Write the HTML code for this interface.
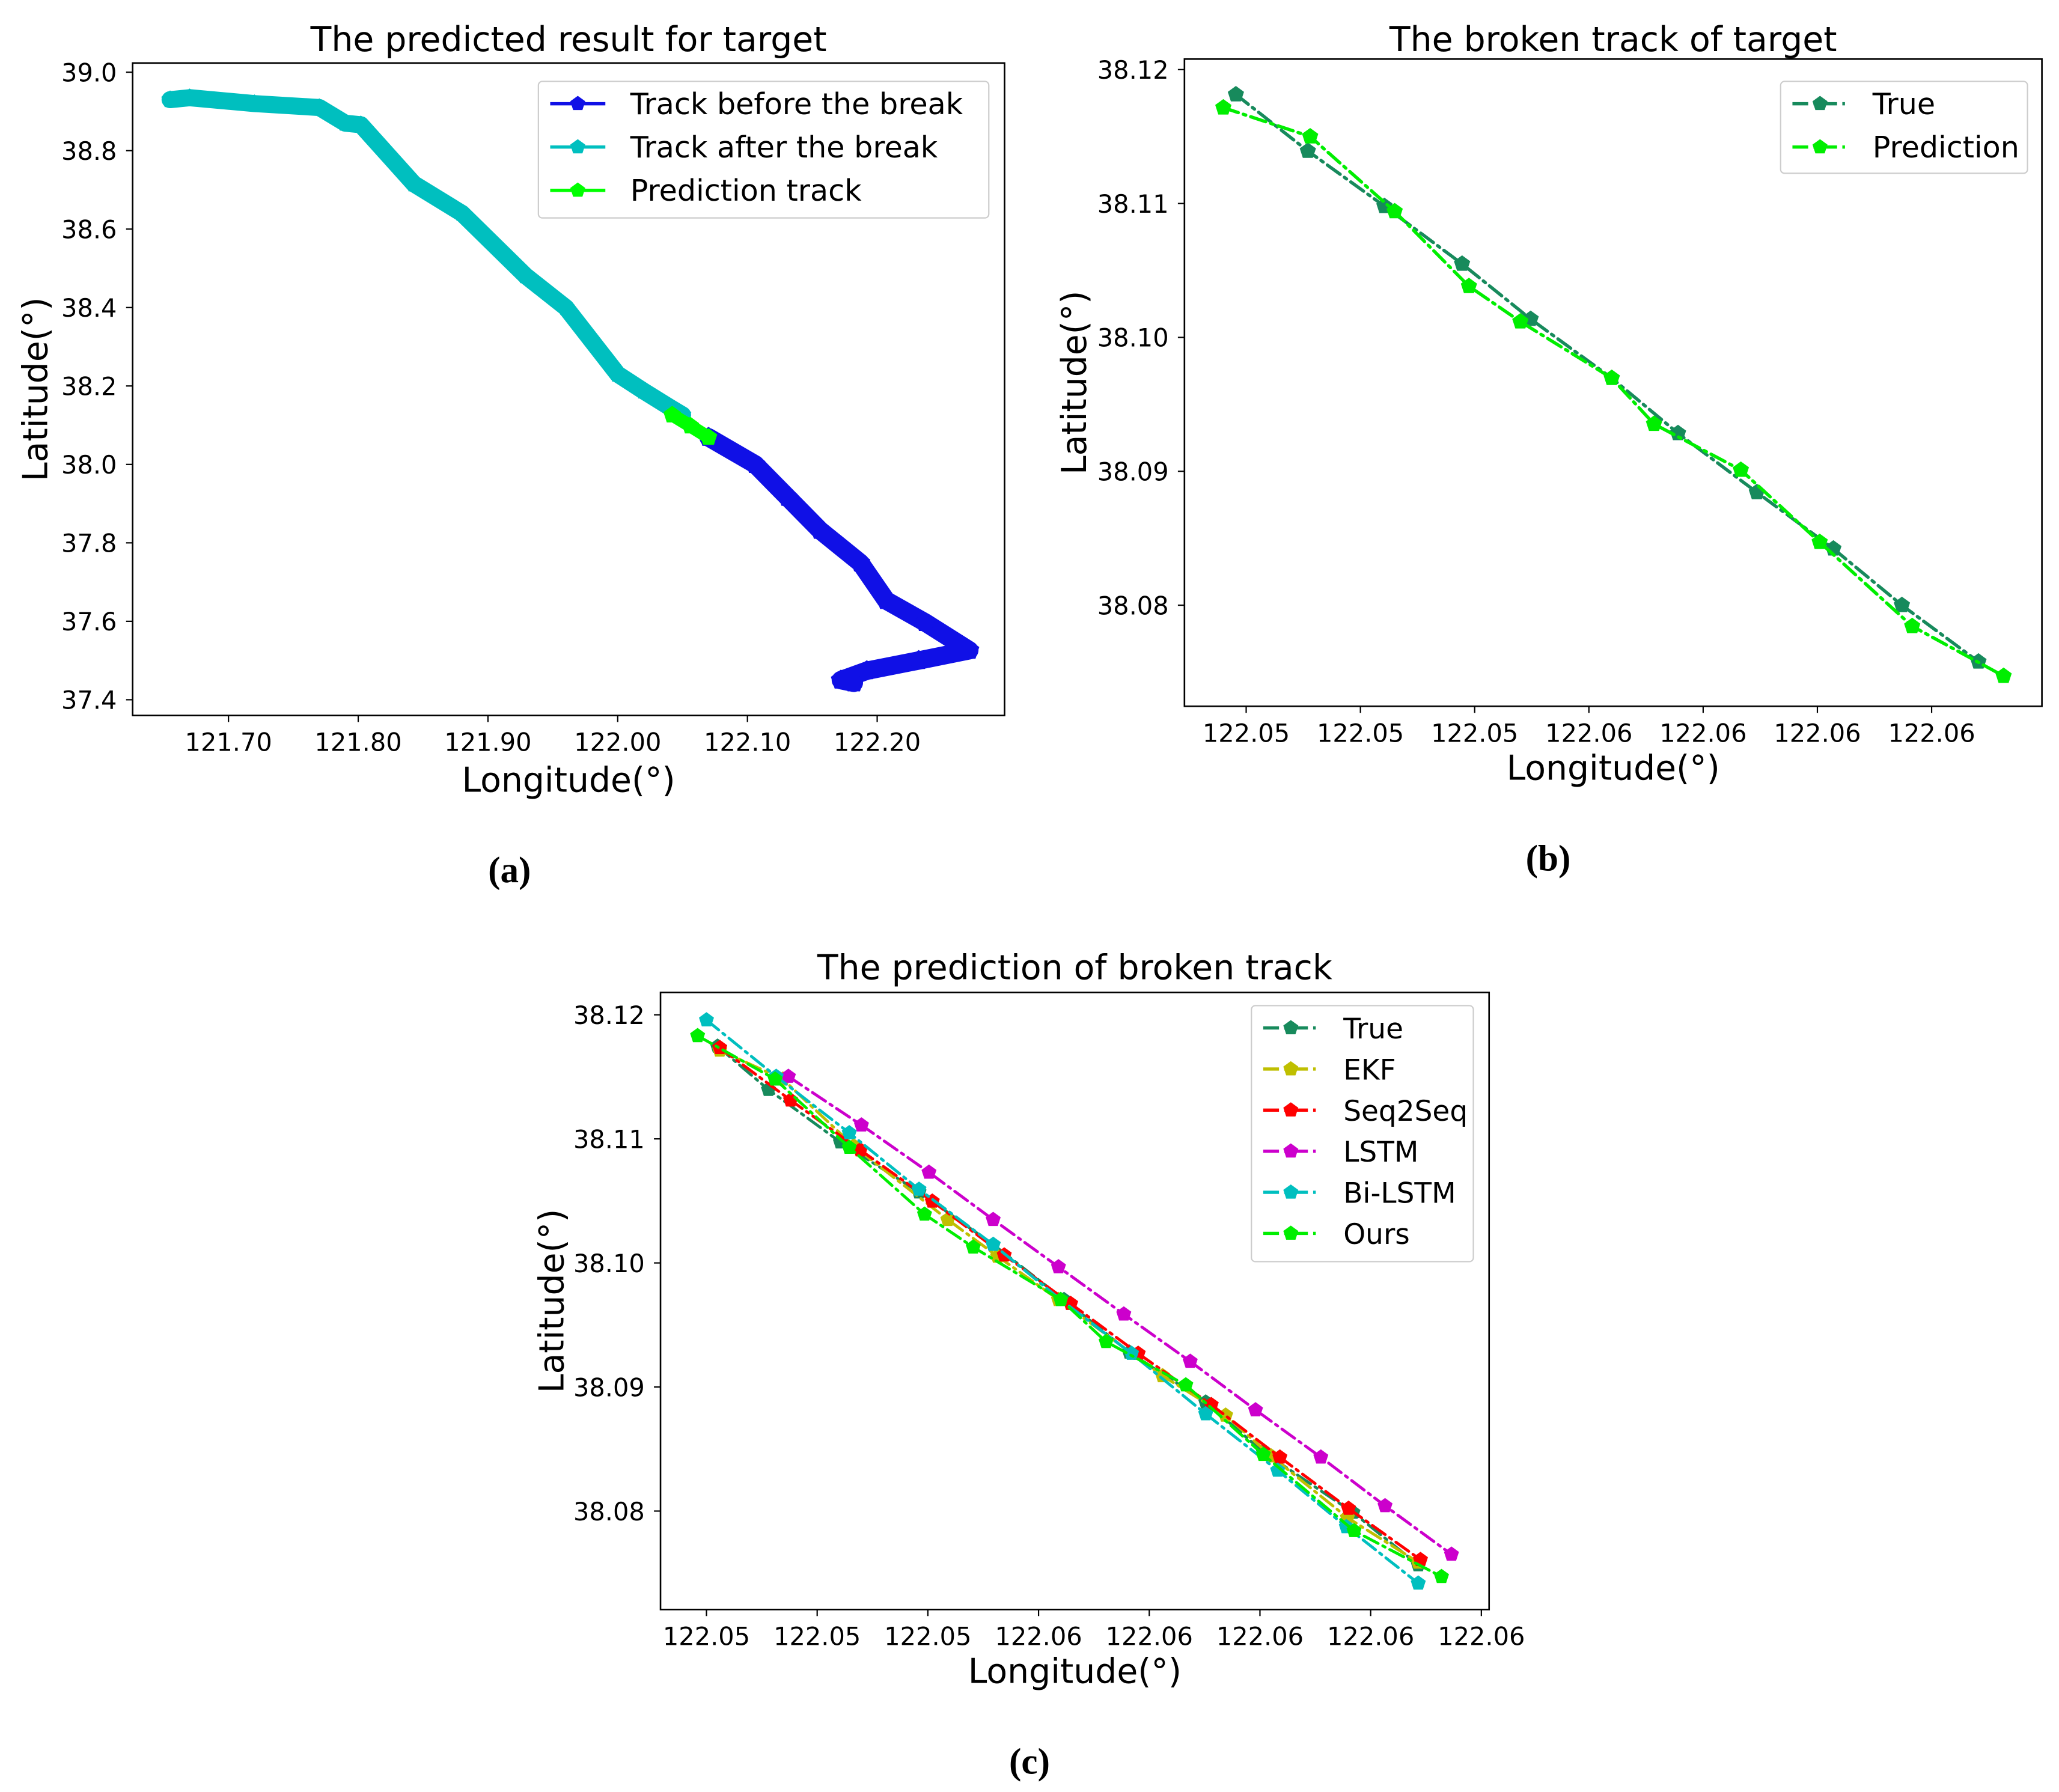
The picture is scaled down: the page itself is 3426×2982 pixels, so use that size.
<!DOCTYPE html>
<html><head><meta charset="utf-8">
<style>
html,body{margin:0;padding:0;background:#fff;}
svg{display:block;}
text{font-family:"DejaVu Sans","Liberation Sans",sans-serif;fill:#000;}
.cap{font-family:"Liberation Serif",serif;font-weight:bold;}
</style></head>
<body>
<svg id="fig" width="3426" height="2982" viewBox="0 0 1568 1365" preserveAspectRatio="none" xmlns="http://www.w3.org/2000/svg">
<rect width="1568" height="1365" fill="#fff"/>
</svg>
<script>
// ---------- Panel (a) data ----------
const aBeforeLon = [122.07,122.106,122.131,122.156,122.187,122.207,122.237,122.271,122.232,122.192,122.172,122.182];
const aBeforeLat = [38.069,38.0,37.916,37.832,37.749,37.653,37.597,37.526,37.50,37.474,37.45,37.443];
const aAfterLon = [121.655,121.67,121.72,121.77,121.79,121.802,121.843,121.88,121.929,121.96,122.0,122.02,122.04,122.05];
const aAfterLat = [38.93,38.935,38.92,38.91,38.87,38.866,38.715,38.64,38.481,38.40,38.23,38.187,38.146,38.126];
const aPredLon = [122.042,122.056,122.07];
const aPredLat = [38.126,38.098,38.069];
const aXTicks = [121.70,121.80,121.90,122.00,122.10,122.20];
const aXTickLabels = ["121.70","121.80","121.90","122.00","122.10","122.20"];
const aYTicks = [37.4,37.6,37.8,38.0,38.2,38.4,38.6,38.8,39.0];
const aYTickLabels = ["37.4","37.6","37.8","38.0","38.2","38.4","38.6","38.8","39.0"];

// ---------- Panel (b) data ----------
const bTrueLon = [122.05191,122.05254,122.05321,122.05389,122.05449,122.05520,122.05578,122.05647,122.05714,122.05774,122.05841];
const bTrueLat = [38.11814,38.11392,38.10980,38.10549,38.10137,38.09696,38.09284,38.08843,38.08422,38.08000,38.07578];
const bPredLon = [122.05180,122.05256,122.05330,122.05395,122.05440,122.05520,122.05557,122.05633,122.05702,122.05783,122.05863];
const bPredLat = [38.11716,38.11500,38.10941,38.10382,38.10118,38.09696,38.09353,38.09010,38.08471,38.07843,38.07471];
const bXTicks = [122.052,122.053,122.054,122.055,122.056,122.057,122.058];
const bXTickLabels = ["122.05","122.05","122.05","122.06","122.06","122.06","122.06"];
const bYTicks = [38.08,38.09,38.10,38.11,38.12];
const bYTickLabels = ["38.08","38.09","38.10","38.11","38.12"];

// ---------- Panel (c) data ----------
const cTrueLon = [122.05210,122.05256,122.05321,122.05392,122.05459,122.05523,122.05582,122.05651,122.05703,122.05784,122.05843];
const cTrueLat = [38.11746,38.11397,38.10974,38.10571,38.10148,38.09704,38.09280,38.08878,38.08476,38.07989,38.07566];
const cEkfLon = [122.05212,122.05269,122.05333,122.05418,122.05463,122.05518,122.05612,122.05669,122.05710,122.05779,122.05843];
const cEkfLat = [38.11714,38.11481,38.10942,38.10349,38.10053,38.09704,38.09090,38.08772,38.08444,38.07947,38.07587];
const cSeqLon = [122.05212,122.05276,122.05339,122.05404,122.05469,122.05529,122.05590,122.05656,122.05718,122.05780,122.05845];
const cSeqLat = [38.11735,38.11312,38.10910,38.10497,38.10063,38.09672,38.09270,38.08857,38.08434,38.08021,38.07608];
const cLstmLon = [122.05274,122.05340,122.05401,122.05459,122.05518,122.05577,122.05637,122.05696,122.05755,122.05813,122.05873];
const cLstmLat = [38.11503,38.11111,38.10730,38.10349,38.09968,38.09587,38.09206,38.08815,38.08434,38.08042,38.07651];
const cBiLon = [122.05200,122.05263,122.05329,122.05392,122.05459,122.05520,122.05584,122.05651,122.05716,122.05778,122.05843];
const cBiLat = [38.11958,38.11503,38.11048,38.10593,38.10148,38.09704,38.09270,38.08783,38.08328,38.07873,38.07418];
const cOursLon = [122.05192,122.05262,122.05329,122.05397,122.05441,122.05520,122.05561,122.05633,122.05703,122.05785,122.05864];
const cOursLat = [38.11831,38.11481,38.10931,38.10392,38.10127,38.09704,38.09365,38.09016,38.08455,38.07841,38.07471];
const cXTicks = [122.052,122.053,122.054,122.055,122.056,122.057,122.058,122.059];
const cXTickLabels = ["122.05","122.05","122.05","122.06","122.06","122.06","122.06","122.06"];
const cYTicks = [38.08,38.09,38.10,38.11,38.12];
const cYTickLabels = ["38.08","38.09","38.10","38.11","38.12"];

const NS = "http://www.w3.org/2000/svg";
const svg = document.getElementById("fig");
function mk(tag, attrs, parent, txt){
  const e = document.createElementNS(NS, tag);
  for (const k in attrs) e.setAttribute(k, attrs[k]);
  if (txt !== undefined) e.textContent = txt;
  (parent||svg).appendChild(e);
  return e;
}
function lin(d0,d1,r0,r1){ return v => r0 + (v-d0)/(d1-d0)*(r1-r0); }
function pent(cx,cy,r){
  let p=[];
  for(let i=0;i<5;i++){const a=-Math.PI/2+i*2*Math.PI/5;p.push((cx+r*Math.cos(a)).toFixed(2)+","+(cy+r*Math.sin(a)).toFixed(2));}
  return p.join(" ");
}

function axes(name, box, sx, sy, xt, xtl, yt, ytl, title, tY, xlY, ylX){
  const g = mk("g", {});
  
  
  const fr = mk("rect",{x:box.x,y:box.y,width:box.w,height:box.h,fill:"none",stroke:"#000","stroke-width":1.2},g);
  
  
  xt.forEach((v,i)=>{
    const x=sx(v);
    mk("line",{x1:x,y1:box.y+box.h,x2:x,y2:box.y+box.h+5,stroke:"#000"},g);
    const t=mk("text",{x:x,y:box.y+box.h+27,"font-size":19,"text-anchor":"middle"},g,xtl[i]);
    
    
  });
  yt.forEach((v,i)=>{
    const y=sy(v);
    mk("line",{x1:box.x-5,y1:y,x2:box.x,y2:y,stroke:"#000"},g);
    const t=mk("text",{x:box.x-12,y:y+7,"font-size":19,"text-anchor":"end"},g,ytl[i]);
    
    
  });
  const tt=mk("text",{x:box.x+box.w/2,y:tY,"font-size":26,"text-anchor":"middle"},g,title);
  
  
  const xl=mk("text",{x:box.x+box.w/2,y:xlY,"font-size":26,"text-anchor":"middle"},g,"Longitude(°)");
  
  
  const cy=box.y+box.h/2;
  const yl=mk("text",{x:ylX,y:cy,"font-size":26,"text-anchor":"middle",transform:`rotate(-90 ${ylX} ${cy})`},g,"Latitude(°)");
  
  
  return g;
}

function series(name, lon, lat, sx, sy, color, lw, dash, mr){
  const g = mk("g", {});
  
  
  const pts = lon.map((v,i)=>sx(v).toFixed(2)+","+sy(lat[i]).toFixed(2)).join(" ");
  const attrs={points:pts,fill:"none",stroke:color,"stroke-width":lw,"stroke-linejoin":"round","stroke-linecap":"round"};
  if(dash) attrs["stroke-dasharray"]=dash;
  const l=mk("polyline",attrs,g);
  
  
  lon.forEach((v,i)=>{
    const p=mk("polygon",{points:pent(sx(v),sy(lat[i]),mr),fill:color},g);
    
    
  });
}

function legend(name, x, y, w, h, entries, step, fs){
  const g = mk("g", {});
  
  
  mk("rect",{x:x,y:y,width:w,height:h,fill:"#fff",stroke:"#ccc",rx:3},g);
  entries.forEach((e,i)=>{
    const yy=y+17+i*step;
    const eg=mk("g",{},g);
    
    
    mk("line",{x1:x+9,y1:yy,x2:x+51,y2:yy,stroke:e.c,"stroke-width":e.lw||2.5,"stroke-dasharray":e.d||""},eg);
    mk("polygon",{points:pent(x+30,yy,6),fill:e.c},eg);
    mk("text",{x:x+70,y:yy+8,"font-size":fs},eg,e.t);
  });
}

// ----- Panel (a) -----
(function(){
  const box={x:101,y:48,w:664,h:497};
  const sx=lin(121.7,122.2,174,668), sy=lin(39.0,37.4,55,533);
  axes("panel-a",box,sx,sy,aXTicks,aXTickLabels,aYTicks,aYTickLabels,"The predicted result for target",39,603,36);
  series("track-after-break",aAfterLon,aAfterLat,sx,sy,"#00bfbf",13,null,7);
  series("track-before-break",aBeforeLon,aBeforeLat,sx,sy,"#1010e6",14,null,8);
  series("prediction-track",aPredLon,aPredLat,sx,sy,"#00ff00",10,null,7);
  legend("legend-a",410,62,343,104,[
    {c:"#1010e6",t:"Track before the break"},
    {c:"#00bfbf",t:"Track after the break"},
    {c:"#00ff00",t:"Prediction track"}],33,22.5);
})();

// ----- Panel (b) -----
(function(){
  const box={x:902,y:45,w:653,h:493};
  const sx=lin(122.052,122.053,949,1036), sy=lin(38.12,38.08,53,461);
  axes("panel-b",box,sx,sy,bXTicks,bXTickLabels,bYTicks,bYTickLabels,"The broken track of target",39,594,827);
  series("true-track",bTrueLon,bTrueLat,sx,sy,"#178a5c",2.5,"12,4,2,4",6.5);
  series("prediction-track-b",bPredLon,bPredLat,sx,sy,"#00ee00",2.5,"12,4,2,4",6.5);
  legend("legend-b",1356,62,188,70,[
    {c:"#178a5c",t:"True",d:"12,4,2,4"},
    {c:"#00ee00",t:"Prediction",d:"12,4,2,4"}],33,22.5);
})();

// ----- Panel (c) -----
(function(){
  const box={x:503,y:756,w:631,h:470};
  const sx=lin(122.052,122.053,538,622.3), sy=lin(38.12,38.08,773,1151);
  axes("panel-c",box,sx,sy,cXTicks,cXTickLabels,cYTicks,cYTickLabels,"The prediction of broken track",746,1282,429);
  const D="12,4,2,4";
  series("true-c",cTrueLon,cTrueLat,sx,sy,"#178a5c",2.2,D,6);
  series("ekf",cEkfLon,cEkfLat,sx,sy,"#bfbf00",2.2,D,6);
  series("seq2seq",cSeqLon,cSeqLat,sx,sy,"#ff0000",2.2,D,6);
  series("lstm",cLstmLon,cLstmLat,sx,sy,"#cc00cc",2.2,D,6);
  series("bi-lstm",cBiLon,cBiLat,sx,sy,"#00bfbf",2.2,D,6);
  series("ours",cOursLon,cOursLat,sx,sy,"#00ee00",2.2,D,6);
  legend("legend-c",953,766,169,195,[
    {c:"#178a5c",t:"True",d:D},{c:"#bfbf00",t:"EKF",d:D},{c:"#ff0000",t:"Seq2Seq",d:D},
    {c:"#cc00cc",t:"LSTM",d:D},{c:"#00bfbf",t:"Bi-LSTM",d:D},{c:"#00ee00",t:"Ours",d:D}],31.3,21.5);
})();

// captions
[["caption-a",388,672,"(a)"],["caption-b",1179,663,"(b)"],["caption-c",784,1351,"(c)"]].forEach(c=>{
  const t=mk("text",{x:c[1],y:c[2],"font-size":28,"text-anchor":"middle",class:"cap"},svg,c[3]);
  
  
});
</script>
</body></html>
